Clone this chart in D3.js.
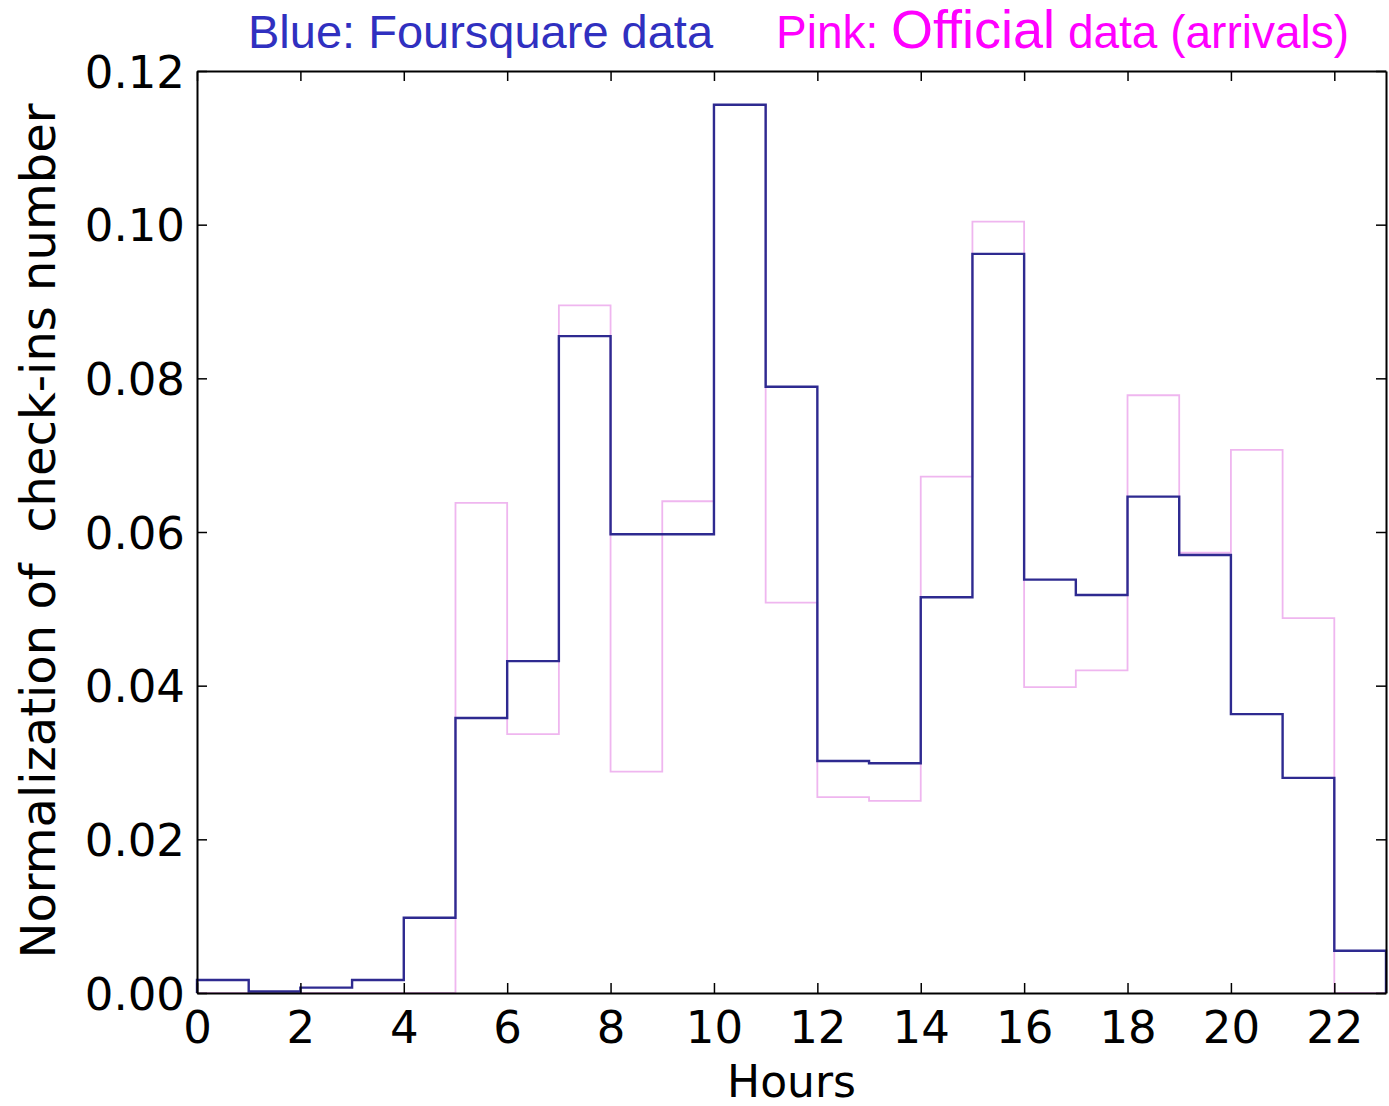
<!DOCTYPE html>
<html>
<head>
<meta charset="utf-8">
<script src="https://cdn.jsdelivr.net/npm/d3@7"></script>
<style>
  body { margin: 0; background: #fff; }
  svg text { font-family: "DejaVu Sans", sans-serif; }
</style>
</head>
<body>
<div id="chart"></div>
<script>
// hourly bins 0..22 (edges 0..23)
const hours = d3.range(0, 23);
const foursquare = [0.0017, 0.0002, 0.0007, 0.0017, 0.0098, 0.0358, 0.0432, 0.0855, 0.0597, 0.0597,
  0.1156, 0.0789, 0.0302, 0.0299, 0.0515, 0.0962, 0.0538, 0.0518, 0.0646, 0.0570, 0.0363, 0.0280, 0.0055];
const official = [0, 0, 0, 0, 0, 0.0638, 0.0337, 0.0895, 0.0288, 0.0640,
  0.1156, 0.0508, 0.0255, 0.0250, 0.0672, 0.1004, 0.0398, 0.0420, 0.0778, 0.0573, 0.0707, 0.0488, 0];
const xTicks = d3.range(0, 23, 2);
const yTicks = [0, 0.02, 0.04, 0.06, 0.08, 0.10, 0.12];

const W = 1389, H = 1106;
const margin = { top: 71, right: 3, bottom: 113, left: 197 };
const width = W - margin.left - margin.right;
const height = H - margin.top - margin.bottom;

const svg = d3.select("#chart").append("svg")
    .attr("width", W)
    .attr("height", H);

const g = svg.append("g")
    .attr("transform", `translate(${margin.left},${margin.top})`);

const x = d3.scaleLinear().domain([0, 23]).range([0, width]);
const y = d3.scaleLinear().domain([0, 0.12]).range([height, 0]);

// step outline like a histtype="step" histogram
function stepPath(values) {
    const pts = [[0, 0]];
    values.forEach((v, i) => {
        pts.push([hours[i], v]);
        pts.push([hours[i] + 1, v]);
    });
    pts.push([hours[hours.length - 1] + 1, 0]);
    return d3.line().x(d => x(d[0])).y(d => y(d[1]))(pts);
}

g.append("path")
    .attr("d", stepPath(official))
    .attr("fill", "none")
    .attr("stroke", "#efb6ef")
    .attr("stroke-width", 1.8);

g.append("path")
    .attr("d", stepPath(foursquare))
    .attr("fill", "none")
    .attr("stroke", "#2e2a90")
    .attr("stroke-width", 2.4);

// axes: ticks pointing inward on all four sides
const tickLen = 10;
const xb = g.append("g")
    .attr("transform", `translate(0,${height})`)
    .call(d3.axisBottom(x).tickValues(xTicks).tickSizeInner(-tickLen).tickSizeOuter(0).tickPadding(18));
const xt = g.append("g")
    .call(d3.axisTop(x).tickValues(xTicks).tickSizeInner(-tickLen).tickSizeOuter(0).tickFormat(""));
const yl = g.append("g")
    .call(d3.axisLeft(y).tickValues(yTicks).tickSizeInner(-tickLen).tickSizeOuter(0).tickPadding(12)
        .tickFormat(d3.format(".2f")));
const yr = g.append("g")
    .attr("transform", `translate(${width},0)`)
    .call(d3.axisRight(y).tickValues(yTicks).tickSizeInner(-tickLen).tickSizeOuter(0).tickFormat(""));

[xb, xt, yl, yr].forEach(a => {
    a.select(".domain").attr("stroke", "#000").attr("stroke-width", 2);
    a.selectAll(".tick line").attr("stroke", "#000").attr("stroke-width", 1.5);
    a.selectAll("text").attr("fill", "#000")
        .style("font-family", "DejaVu Sans").style("font-size", "45px");
});
xb.selectAll("text").attr("dy", "0.71em");
yl.selectAll("text").attr("dy", "0.36em");

// axis titles
svg.append("text")
    .attr("x", margin.left + width / 2)
    .attr("y", 1097)
    .attr("text-anchor", "middle")
    .style("font-size", "44px")
    .text("Hours");

svg.append("text")
    .attr("transform", `translate(55,${margin.top + height / 2 - 1}) rotate(-90)`)
    .attr("text-anchor", "middle")
    .style("font-size", "48px")
    .style("white-space", "pre")
    .attr("xml:space", "preserve")
    .text("Normalization of  check-ins number");

// legend text on top
svg.append("text")
    .attr("x", 248)
    .attr("y", 48)
    .attr("fill", "#3030c0")
    .style("font-family", "Liberation Sans, Arial, sans-serif")
    .style("font-size", "47px")
    .text("Blue: Foursquare data");

const pink = svg.append("text")
    .attr("x", 776)
    .attr("y", 48)
    .attr("fill", "#ff00ff")
    .style("font-family", "Liberation Sans, Arial, sans-serif")
    .style("font-size", "46px");
pink.append("tspan").text("Pink: ");
pink.append("tspan").style("font-size", "54px").text("Official");
pink.append("tspan").text(" data (arrivals)");
</script>
</body>
</html>
